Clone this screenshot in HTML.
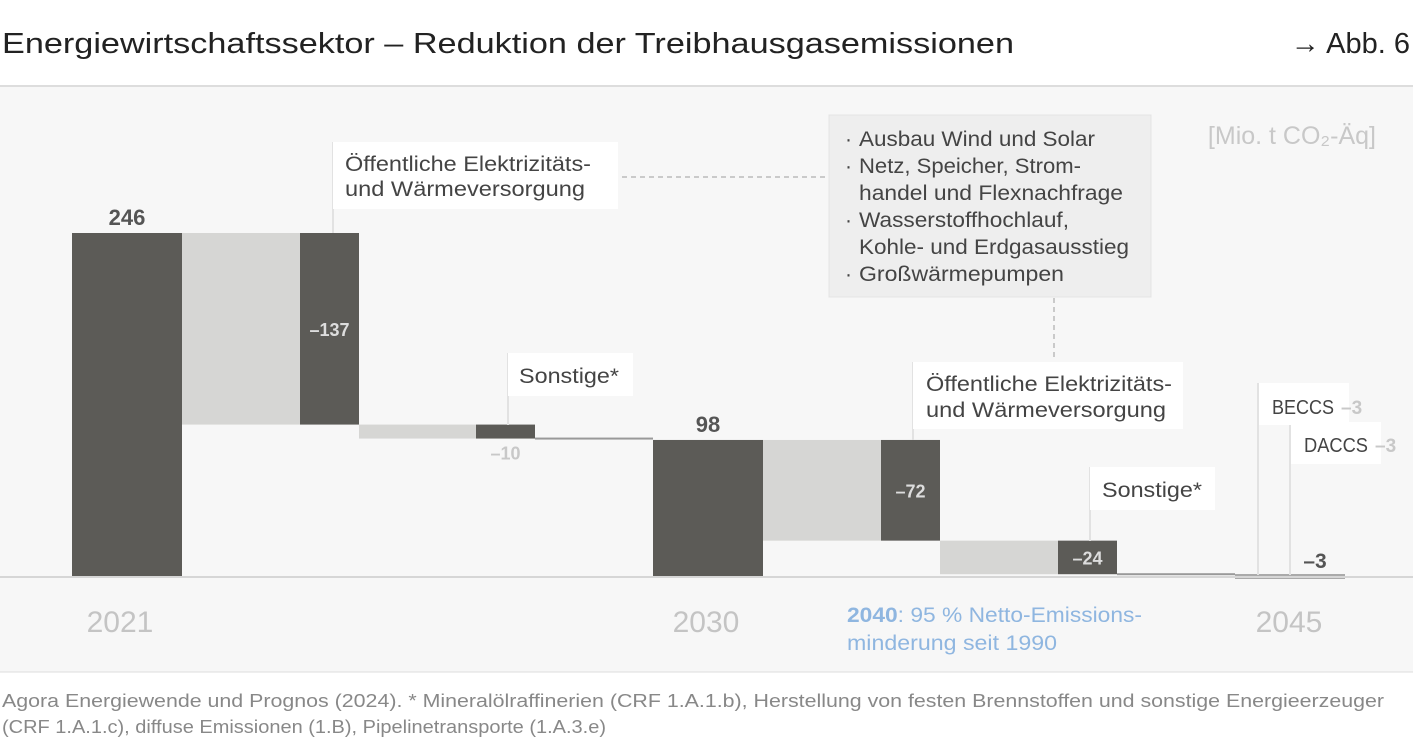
<!DOCTYPE html>
<html><head><meta charset="utf-8"><style>
body{margin:0;background:#fff;font-family:"Liberation Sans",sans-serif}
svg{display:block}
</style></head><body>
<svg id="chart" width="1413" height="756" viewBox="0 0 1413 756" xmlns="http://www.w3.org/2000/svg" font-family="Liberation Sans, sans-serif">
<rect x="0" y="0" width="1413" height="86" fill="#fff"/>
<rect x="0" y="86" width="1413" height="586" fill="#f7f7f7"/>
<line x1="0" y1="86" x2="1413" y2="86" stroke="#ddd" stroke-width="2"/>
<line x1="0" y1="672" x2="1413" y2="672" stroke="#ddd" stroke-width="1"/>
<text x="2" y="53" font-size="29" fill="#222" textLength="1012" lengthAdjust="spacingAndGlyphs">Energiewirtschaftssektor – Reduktion der Treibhausgasemissionen</text>
<text x="1410" y="53" font-size="29" fill="#222" text-anchor="end">→ Abb. 6</text>
<text x="1376" y="144" font-size="25" fill="#c8c8c8" text-anchor="end">[Mio. t CO₂-Äq]</text>

<g id="connectors"></g>
<g id="bars"></g>
<line x1="0" y1="577" x2="1413" y2="577" stroke="#d6d6d6" stroke-width="2"/>
<g id="labels"></g>

<!-- annotation boxes -->
<line x1="333" y1="142" x2="333" y2="233" stroke="#e2e2e2" stroke-width="2"/>
<g>
<rect x="333" y="142" width="285" height="67" fill="#fff"/>
<text x="345" y="171" font-size="21" fill="#444" textLength="246" lengthAdjust="spacingAndGlyphs">Öffentliche Elektrizitäts-</text>
<text x="345" y="196" font-size="21" fill="#444" textLength="240" lengthAdjust="spacingAndGlyphs">und Wärmeversorgung</text>
</g>
<line x1="508" y1="353" x2="508" y2="425" stroke="#e2e2e2" stroke-width="2"/>
<g>
<rect x="508" y="353" width="125" height="43" fill="#fff"/>
<text x="519" y="383" font-size="21" fill="#444" textLength="100" lengthAdjust="spacingAndGlyphs">Sonstige*</text>
</g>
<line x1="622" y1="177" x2="829" y2="177" stroke="#bbb" stroke-width="1.5" stroke-dasharray="5,4"/>
<line x1="1054" y1="298" x2="1054" y2="360" stroke="#bbb" stroke-width="1.5" stroke-dasharray="5,4"/>
<g>
<rect x="829" y="115" width="322" height="182" fill="#eeeeee" stroke="#e4e4e4"/>
<g font-size="21" fill="#444">
<text x="845" y="146">·</text><text x="859" y="146" textLength="236" lengthAdjust="spacingAndGlyphs">Ausbau Wind und Solar</text>
<text x="845" y="173">·</text><text x="859" y="173" textLength="222" lengthAdjust="spacingAndGlyphs">Netz, Speicher, Strom-</text>
<text x="859" y="200" textLength="264" lengthAdjust="spacingAndGlyphs">handel und Flexnachfrage</text>
<text x="845" y="227">·</text><text x="859" y="227" textLength="210" lengthAdjust="spacingAndGlyphs">Wasserstoffhochlauf,</text>
<text x="859" y="254" textLength="270" lengthAdjust="spacingAndGlyphs">Kohle- und Erdgasausstieg</text>
<text x="845" y="281">·</text><text x="859" y="281" textLength="205" lengthAdjust="spacingAndGlyphs">Großwärmepumpen</text>
</g></g>
<line x1="913" y1="362" x2="913" y2="440" stroke="#e2e2e2" stroke-width="2"/>
<g>
<rect x="913" y="362" width="270" height="67" fill="#fff"/>
<text x="926" y="391" font-size="21" fill="#444" textLength="246" lengthAdjust="spacingAndGlyphs">Öffentliche Elektrizitäts-</text>
<text x="926" y="417" font-size="21" fill="#444" textLength="240" lengthAdjust="spacingAndGlyphs">und Wärmeversorgung</text>
</g>
<line x1="1090" y1="467" x2="1090" y2="541" stroke="#e2e2e2" stroke-width="2"/>
<g>
<rect x="1090" y="467" width="125" height="43" fill="#fff"/>
<text x="1102" y="497" font-size="21" fill="#444" textLength="100" lengthAdjust="spacingAndGlyphs">Sonstige*</text>
</g>
<line x1="1258" y1="383" x2="1258" y2="575" stroke="#e2e2e2" stroke-width="2"/>
<line x1="1290" y1="421" x2="1290" y2="575" stroke="#e2e2e2" stroke-width="2"/>
<g>
<rect x="1259" y="383" width="90" height="42" fill="#fff"/>
<text x="1272" y="414" font-size="20" fill="#444" textLength="62" lengthAdjust="spacingAndGlyphs">BECCS</text>
<text x="1341" y="414" font-size="19" fill="#c8c8c8" font-weight="bold">–3</text>
</g>
<g>
<rect x="1291" y="422" width="90" height="42" fill="#fff"/>
<text x="1304" y="452" font-size="20" fill="#444" textLength="64" lengthAdjust="spacingAndGlyphs">DACCS</text>
<text x="1375" y="452" font-size="19" fill="#c8c8c8" font-weight="bold">–3</text>
</g>

<g font-size="30" fill="#c4c4c4">
<text x="120" y="632" text-anchor="middle">2021</text>
<text x="706" y="632" text-anchor="middle">2030</text>
<text x="1289" y="632" text-anchor="middle">2045</text>
</g>
<g font-size="21" fill="#8fb6e0">
<text x="847" y="622" textLength="295" lengthAdjust="spacingAndGlyphs"><tspan font-weight="bold">2040</tspan>: 95 % Netto-Emissions-</text>
<text x="847" y="650" textLength="210" lengthAdjust="spacingAndGlyphs">minderung seit 1990</text>
</g>
<g font-size="18" fill="#888">
<text x="2" y="707" textLength="1382" lengthAdjust="spacingAndGlyphs">Agora Energiewende und Prognos (2024). * Mineralölraffinerien (CRF 1.A.1.b), Herstellung von festen Brennstoffen und sonstige Energieerzeuger</text>
<text x="2" y="733" textLength="604" lengthAdjust="spacingAndGlyphs">(CRF 1.A.1.c), diffuse Emissionen (1.B), Pipelinetransporte (1.A.3.e)</text>
</g>
</svg>
<script>
const categories = ["2021", "Öffentliche 2021", "Sonstige 2021", "2030", "Öffentliche 2030", "Sonstige 2030", "2045"];
const values = [246, -137, -10, 98, -72, -24, -3];
const kinds = ["total", "delta", "delta", "total", "delta", "delta", "total"];
const valueLabels = ["246", "–137", "–10", "98", "–72", "–24", "–3"];

const NS = "http://www.w3.org/2000/svg";
const baseY = 577, pxPerUnit = 344 / 246;
function y(v) { return baseY - v * pxPerUnit; }
const slotX = [72, 300, 476, 653, 881, 1058, 1235];
function barW(i) { return kinds[i] === "total" ? 110 : 59; }
const bars = document.getElementById("bars");
const conn = document.getElementById("connectors");
const labels = document.getElementById("labels");
let running = 0;
const tops = [];
for (let i = 0; i < values.length; i++) {
  let y0, y1;
  if (kinds[i] === "total") { running = values[i]; y0 = y(Math.max(values[i], 0)); y1 = y(Math.min(values[i], 0)); }
  else { const prev = running; running += values[i]; y0 = y(prev); y1 = y(running); }
  tops.push([y0, y1, running]);
  const x = slotX[i], w = barW(i);
  const r = document.createElementNS(NS, "rect");
  
  
  r.setAttribute("x", x); r.setAttribute("width", w);
  if (i === values.length - 1) {
    r.setAttribute("y", baseY - 3); r.setAttribute("height", 5); r.setAttribute("fill", "#aaa");
  } else {
    r.setAttribute("y", y0); r.setAttribute("height", Math.max(1, y1 - y0)); r.setAttribute("fill", "#5c5b57");
  }
  bars.appendChild(r);
  const t = document.createElementNS(NS, "text");
  
  
  t.setAttribute("font-weight", "bold");
  t.textContent = valueLabels[i];
  if (kinds[i] === "total" && i < values.length - 1) {
    t.setAttribute("x", x + w / 2); t.setAttribute("y", y0 - 8); t.setAttribute("text-anchor", "middle");
    t.setAttribute("font-size", "22"); t.setAttribute("fill", "#555");
  } else if (i === values.length - 1) {
    t.setAttribute("x", x + 80); t.setAttribute("y", baseY - 9); t.setAttribute("text-anchor", "middle");
    t.setAttribute("font-size", "21"); t.setAttribute("fill", "#555");
  } else if (y1 - y0 > 25) {
    t.setAttribute("x", x + w / 2); t.setAttribute("y", (y0 + y1) / 2 + 7); t.setAttribute("text-anchor", "middle");
    t.setAttribute("font-size", "18"); t.setAttribute("fill", "#ddd");
  } else {
    t.setAttribute("x", x + w / 2); t.setAttribute("y", y1 + 21); t.setAttribute("text-anchor", "middle");
    t.setAttribute("font-size", "18"); t.setAttribute("fill", "#c8c8c8");
  }
  labels.appendChild(t);
}
// connectors between bars
for (let i = 0; i < values.length - 1; i++) {
  const xa = slotX[i] + barW(i), xb = slotX[i + 1];
  const level = tops[i][2];
  const nextIsDelta = kinds[i + 1] === "delta";
  const c = document.createElementNS(NS, "rect");
  
  
  c.setAttribute("x", xa); c.setAttribute("width", xb - xa);
  if (nextIsDelta) {
    const nxt = level + values[i + 1];
    c.setAttribute("y", y(level)); c.setAttribute("height", y(nxt) - y(level)); c.setAttribute("fill", "#d6d6d4");
    if (kinds[i] === "delta") { c.setAttribute("y", y(level)); }
  } else {
    c.setAttribute("y", y(level) - 1); c.setAttribute("height", 2); c.setAttribute("fill", "#999");
  }
  conn.appendChild(c);
}
</script>
</body></html>
